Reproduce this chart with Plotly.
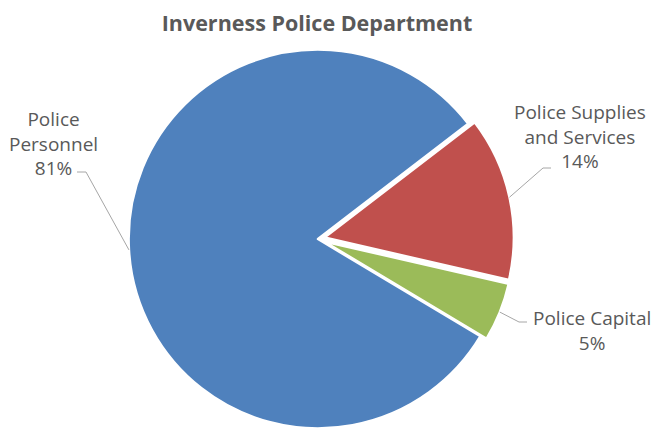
import math
import plotly.graph_objects as go

# ---- data ----
slice_names = ["Police Supplies and Services", "Police Capital", "Police Personnel"]
label_lines = [["Police Supplies", "and Services"], ["Police Capital"], ["Police", "Personnel"]]
values = [14, 5, 81]
colors = ["#C0504D", "#9BBB59", "#4F81BD"]
pulls = [0.035, 0.035, 0.0]
title_text = "Inverness Police Department"

# ---- layout geometry (pixels) ----
W, H = 654, 435
rotation = 52.5
cx_px, cy_px = 318, 239
half = H - cy_px
max_pull = max(pulls)
r_px = half / (1 + max_pull)

# label centres and leader-line end/elbow (layout positions)
label_pos = [(580, 136), (592, 330), (53, 143)]
leader_end = [((551, 168), (543, 168)), ((527, 322), (519, 322)), ((77, 172), (86, 172))]

TEXT = "#595959"
FONT = "Open Sans"


def px(x):
    return x / W


def py(y):
    return 1 - y / H


fig = go.Figure(
    go.Pie(
        labels=slice_names,
        values=values,
        marker=dict(colors=colors, line=dict(color="white", width=2.5)),
        pull=pulls,
        sort=False,
        direction="clockwise",
        rotation=rotation,
        textinfo="none",
        hoverinfo="label+percent",
        showlegend=False,
        domain=dict(x=[px(cx_px - half), px(cx_px + half)], y=[0, 2 * half / H]),
    )
)

total = sum(values)
annotations = []
shapes = []
cum = 0.0
for i, v in enumerate(values):
    mid = rotation + (cum + v / 2) / total * 360
    cum += v
    rr = r_px * (1 + pulls[i])
    ax = cx_px + rr * math.sin(math.radians(mid))
    ay = cy_px - rr * math.cos(math.radians(mid))
    pct = round(v / total * 100)
    text = "<br>".join(label_lines[i] + [f"{pct}%"])
    lx, ly = label_pos[i]
    annotations.append(dict(
        x=px(lx), y=py(ly), xref="paper", yref="paper",
        text=text, showarrow=False, xanchor="center", yanchor="middle",
        align="center", font=dict(family=FONT, size=19, color=TEXT),
    ))
    (ex, ey), (bx, by) = leader_end[i]
    shapes.append(dict(
        type="path", xref="paper", yref="paper",
        path=f"M {px(ax)},{py(ay)} L {px(bx)},{py(by)} L {px(ex)},{py(ey)}",
        line=dict(color="#A6A6A6", width=1),
    ))

fig.update_layout(
    width=W, height=H,
    margin=dict(l=0, r=0, t=0, b=0),
    paper_bgcolor="white", plot_bgcolor="white",
    title=dict(text=title_text, x=px(317), xanchor="center", y=py(23), yanchor="middle",
               font=dict(family=FONT, size=21.5, color=TEXT, weight="bold")),
    annotations=annotations,
    shapes=shapes,
)

fig.write_html("out.html")
